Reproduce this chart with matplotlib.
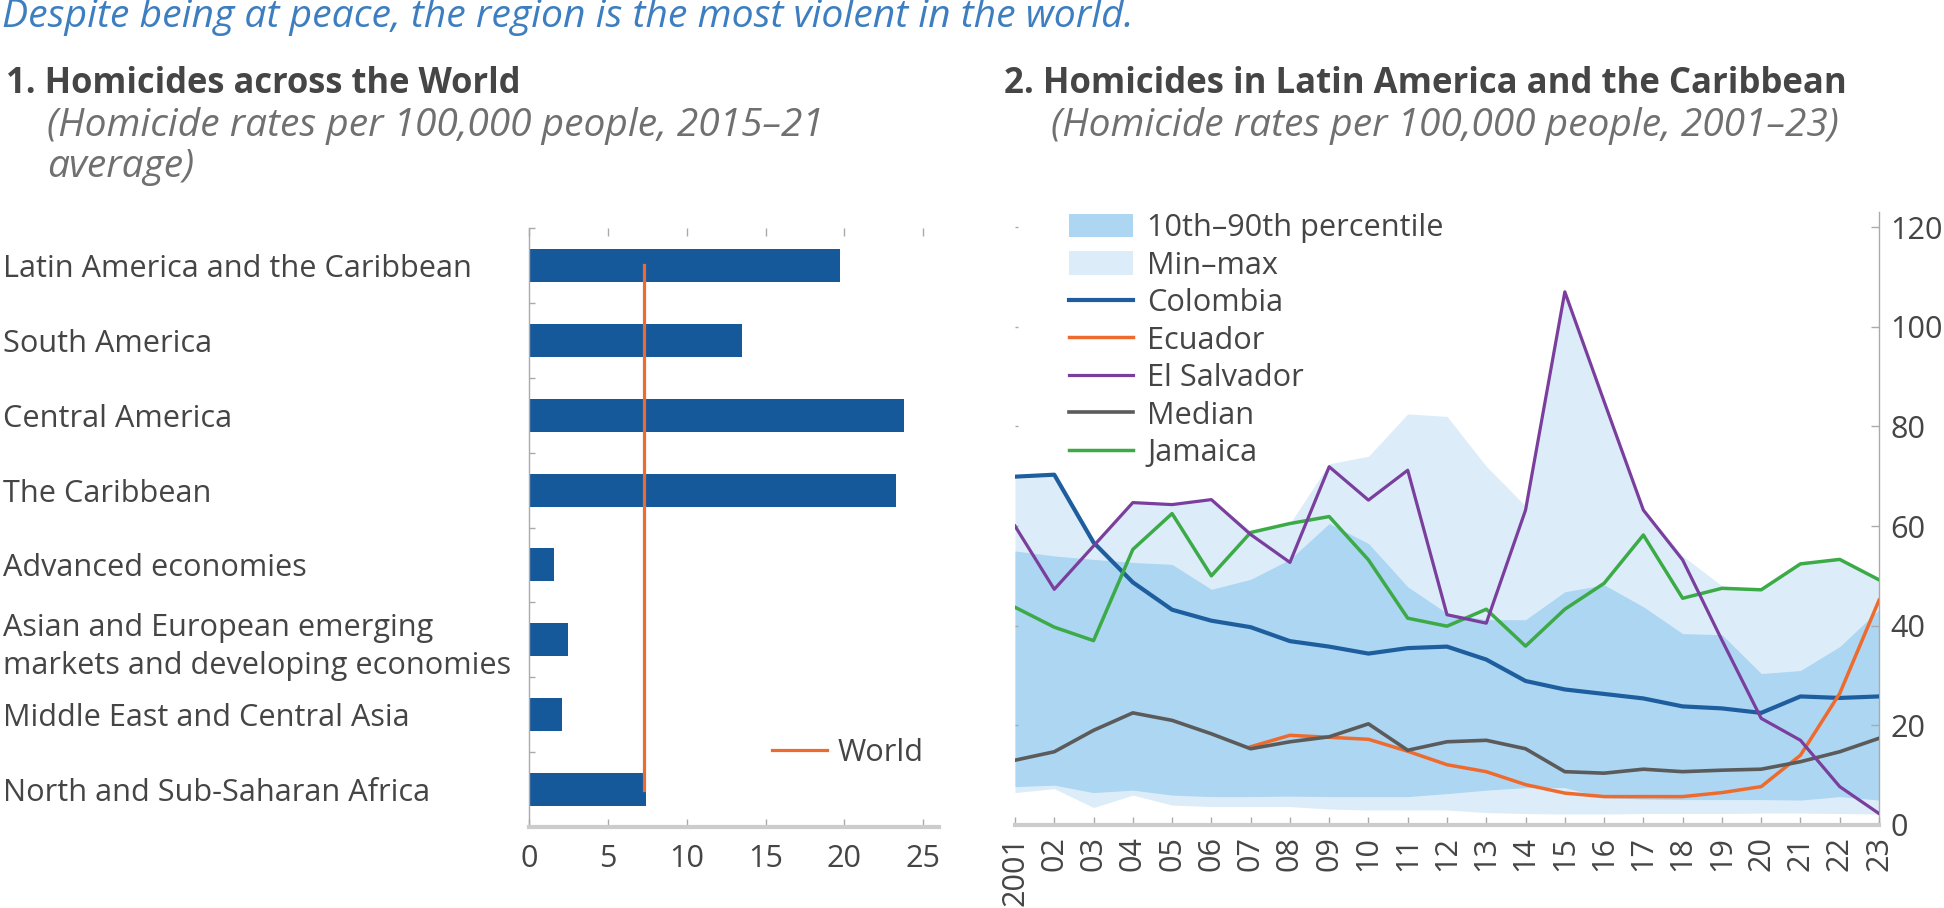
import numpy as np
import matplotlib
matplotlib.use("Agg")
import matplotlib.pyplot as plt
from matplotlib.lines import Line2D
from matplotlib.patches import Patch

# ---------------- data ----------------
categories = [
    "Latin America and the Caribbean",
    "South America",
    "Central America",
    "The Caribbean",
    "Advanced economies",
    "Asian and European emerging\nmarkets and developing economies",
    "Middle East and Central Asia",
    "North and Sub-Saharan Africa",
]
bar_values = [19.7, 13.5, 23.8, 23.3, 1.6, 2.5, 2.1, 7.4]
world_value = 7.3
bar_xticks = [0, 5, 10, 15, 20, 25]

years = list(range(2001, 2024))
year_labels = ["2001"] + [f"{y % 100:02d}" for y in years[1:]]

colombia = [69.9, 70.3, 56.7, 48.7, 43.2, 41.0, 39.7, 36.9, 35.8, 34.4, 35.5, 35.8,
            33.2, 28.9, 27.2, 26.3, 25.4, 23.8, 23.4, 22.5, 25.8, 25.5, 25.8]
ecuador = [np.nan] * 6 + [15.7, 18.0, 17.6, 17.2, 14.8, 12.1, 10.7, 8.1, 6.4, 5.7,
                          5.7, 5.7, 6.5, 7.7, 14.0, 26.4, 45.1]
el_salvador = [60.0, 47.3, 56.0, 64.7, 64.3, 65.3, 58.3, 52.7, 71.9, 65.2, 71.2, 42.2,
               40.5, 63.2, 107.0, 85.0, 63.2, 53.2, 37.1, 21.4, 17.0, 7.7, 2.3]
median = [13.0, 14.7, 19.0, 22.5, 21.0, 18.3, 15.3, 16.7, 17.7, 20.3, 15.0, 16.7,
          17.0, 15.3, 10.7, 10.4, 11.2, 10.7, 11.0, 11.2, 12.7, 14.7, 17.4]
jamaica = [43.7, 39.7, 37.0, 55.3, 62.5, 50.0, 58.7, 60.5, 61.9, 53.2, 41.5, 39.9,
           43.3, 35.9, 43.3, 48.5, 58.2, 45.5, 47.5, 47.2, 52.4, 53.3, 49.2]
p90 = [55.0, 54.0, 53.3, 52.7, 52.3, 47.3, 49.3, 53.3, 60.5, 56.5, 47.8, 42.5,
       41.2, 41.2, 46.8, 48.2, 43.8, 38.4, 38.2, 30.4, 31.0, 35.8, 43.2]
p10 = [7.7, 8.0, 6.5, 7.0, 6.0, 5.7, 5.7, 5.8, 5.7, 5.7, 5.7, 6.3,
       7.0, 7.5, 7.5, 5.5, 5.2, 5.1, 5.1, 5.1, 5.0, 5.7, 5.0]
mm_max = [69.5, 70.0, 56.5, 65.0, 64.5, 65.5, 59.0, 60.5, 72.5, 74.0, 82.5, 82.0,
          72.0, 64.0, 107.0, 85.0, 63.5, 54.0, 48.0, 47.5, 52.5, 53.5, 49.5]
mm_min = [6.5, 7.3, 3.5, 6.0, 4.0, 3.7, 3.7, 3.7, 3.2, 3.0, 3.0, 3.0,
          2.5, 2.3, 2.2, 2.2, 2.3, 2.3, 2.3, 2.4, 2.4, 2.3, 2.2]
right_yticks = [0, 20, 40, 60, 80, 100, 120]

# ---------------- style ----------------
plt.rcParams['font.family'] = ['Open Sans', 'DejaVu Sans']
BLUE_BAR = '#16599B'
ORANGE = '#EE6B2F'
COL_BLUE = '#1E5E9E'
PURPLE = '#7A3E9D'
GREY_LINE = '#5B5B5B'
GREEN = '#3DAA48'
BAND_DARK = '#ACD6F1'
BAND_LIGHT = '#DCEDF9'
TXT = '#454545'
SUB = '#707070'
AXC = '#AAAAAA'

W, H = 1944, 908
fig = plt.figure(figsize=(W / 100, H / 100), dpi=100)
renderer = fig.canvas.get_renderer()


def fit_size(s, width_px, **kw):
    t = fig.text(0, 0, s, fontsize=20, **kw)
    w = t.get_window_extent(renderer).width
    t.remove()
    return 20 * width_px / w


def ptext(x, y, s, width_px, **kw):
    size = fit_size(s, width_px, **kw)
    return fig.text(x / W, 1 - y / H, s, fontsize=size, va='center', ha='left', **kw)


# headers
ptext(2, 17, "Despite being at peace, the region is the most violent in the world.", 1131,
      style='italic', color='#3D7EC0')
ptext(6, 84, "1. Homicides across the World", 515, weight='bold', color=TXT)
sub_size = fit_size("(Homicide rates per 100,000 people, 2001–23)", 786, style='italic')
fig.text(47 / W, 1 - 126 / H, "(Homicide rates per 100,000 people, 2015–21",
         fontsize=sub_size, style='italic', color=SUB, va='center')
fig.text(47 / W, 1 - 167 / H, "average)", fontsize=sub_size, style='italic', color=SUB, va='center')
ptext(1004, 84, "2. Homicides in Latin America and the Caribbean", 844, weight='bold', color=TXT)
fig.text(1051 / W, 1 - 126 / H, "(Homicide rates per 100,000 people, 2001–23)",
         fontsize=sub_size, style='italic', color=SUB, va='center')

LBL = fit_size("Latin America and the Caribbean", 467)

# ---------------- left panel ----------------
l0, l1, t0, b0 = 529, 939, 228, 827
ax1 = fig.add_axes([l0 / W, 1 - b0 / H, (l1 - l0) / W, (b0 - t0) / H])
ypos = np.arange(len(categories))
ax1.barh(ypos, bar_values, height=0.44, color=BLUE_BAR, zorder=2)
wl, = ax1.plot([world_value, world_value], [ypos[0], ypos[-1]], color=ORANGE, lw=2.3, zorder=3)
ax1.set_ylim(len(categories) - 0.5, -0.5)
ax1.set_xlim(0, 26)
ax1.set_yticks(ypos)
ax1.set_yticklabels(categories, ha='left', fontsize=LBL, color=TXT, linespacing=1.35)
ax1.tick_params(axis='y', which='major', length=0, pad=(l0 - 3) * 0.72)
ax1.set_yticks(np.arange(-0.5, len(categories) - 0.5, 1), minor=True)
ax1.tick_params(axis='y', which='minor', direction='in', length=4, color=AXC, width=1)
ax1.set_xticks(bar_xticks)
ax1.tick_params(axis='x', direction='in', length=6, top=True, color=AXC, width=1,
                labelsize=LBL, labelcolor=TXT, pad=12)
for s in ['top', 'right']:
    ax1.spines[s].set_visible(False)
ax1.spines['left'].set_color(AXC)
ax1.spines['left'].set_linewidth(1)
ax1.spines['bottom'].set_color('#CCCCCC')
ax1.spines['bottom'].set_linewidth(3)
ax1.legend([wl], ["World"], loc='center left', bbox_to_anchor=(772 / W, 1 - 753 / H),
           bbox_transform=fig.transFigure, frameon=False, borderpad=0, borderaxespad=0,
           handlelength=1.8, handletextpad=0.35, fontsize=LBL, labelcolor=TXT)

# ---------------- right panel ----------------
r0, r1, rb = 1015, 1879, 825
ytop = 123
pxu = 4.983
ax2 = fig.add_axes([r0 / W, 1 - rb / H, (r1 - r0) / W, ytop * pxu / H])
ax2.fill_between(years, mm_min, mm_max, color=BAND_LIGHT, lw=0, zorder=1)
ax2.fill_between(years, p10, p90, color=BAND_DARK, lw=0, zorder=1.5)
h_col, = ax2.plot(years, colombia, color=COL_BLUE, lw=3.0, zorder=3)
h_ecu, = ax2.plot(years, ecuador, color=ORANGE, lw=2.5, zorder=3)
h_med, = ax2.plot(years, median, color=GREY_LINE, lw=2.6, zorder=3)
h_jam, = ax2.plot(years, jamaica, color=GREEN, lw=2.5, zorder=3)
h_sal, = ax2.plot(years, el_salvador, color=PURPLE, lw=2.3, zorder=3)
ax2.set_xlim(years[0], years[-1])
ax2.set_ylim(0, ytop)
ax2.set_xticks(years)
ax2.set_xticklabels(year_labels, rotation=90, fontsize=LBL, color=TXT)
ax2.tick_params(axis='x', direction='in', length=6, color=AXC, width=1, pad=8)
ax2.set_yticks(right_yticks)
ax2.yaxis.tick_right()
ax2.tick_params(axis='y', direction='in', length=6, color=AXC, width=1, left=True,
                labelleft=False, labelright=True, labelsize=LBL, labelcolor=TXT, pad=8)
for t in ax2.yaxis.get_major_ticks():
    t.tick1line.set_markersize(2.5)
for s in ['top', 'left']:
    ax2.spines[s].set_visible(False)
ax2.spines['right'].set_color(AXC)
ax2.spines['right'].set_linewidth(1)
ax2.spines['bottom'].set_color('#CCCCCC')
ax2.spines['bottom'].set_linewidth(3)

handles = [Patch(color=BAND_DARK, lw=0), Patch(color=BAND_LIGHT, lw=0), h_col, h_ecu, h_sal, h_med, h_jam]
labels = ["10th–90th percentile", "Min–max", "Colombia", "Ecuador", "El Salvador", "Median", "Jamaica"]
ax2.legend(handles, labels, loc='upper left', bbox_to_anchor=(1069 / W, 1 - 213 / H),
           bbox_transform=fig.transFigure, frameon=False, borderpad=0, borderaxespad=0,
           handlelength=2.1, handleheight=0.8, handletextpad=0.45, labelspacing=0.245,
           fontsize=LBL, labelcolor=TXT)

fig.savefig("out.png", dpi=100)
